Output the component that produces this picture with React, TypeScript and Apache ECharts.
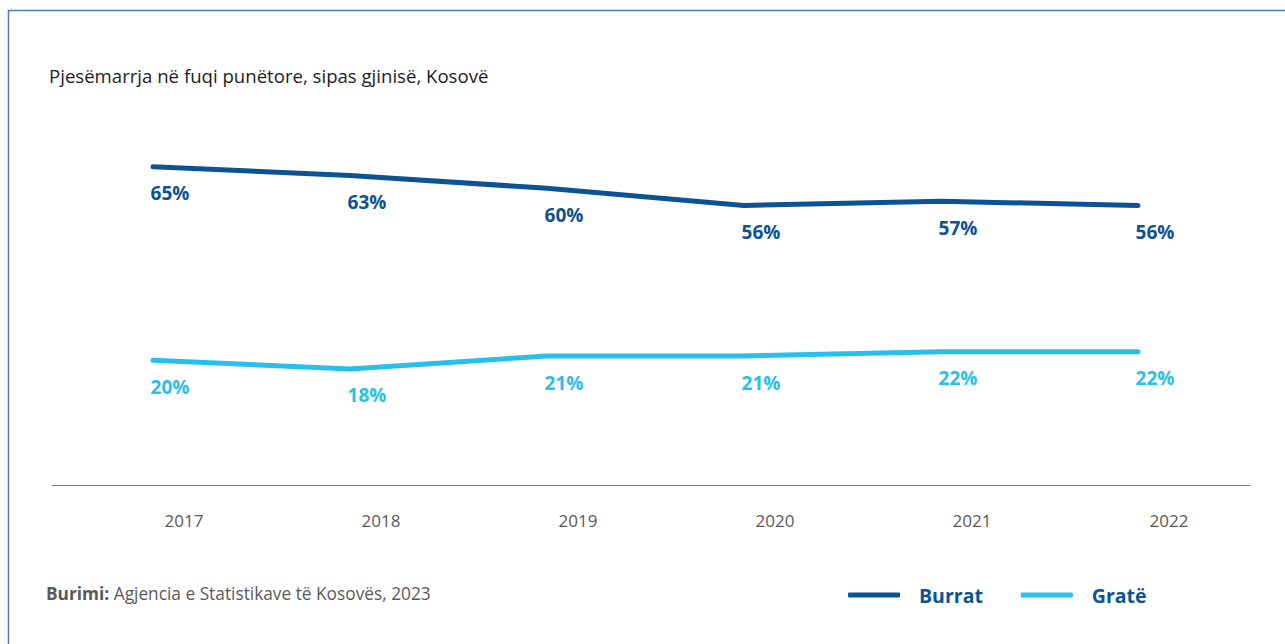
import React, { useEffect, useRef } from "react";
import * as echarts from "echarts";

const years = ["2017", "2018", "2019", "2020", "2021", "2022"];
const burrat = [65, 63, 60, 56, 57, 56];
const grate = [20, 18, 21, 21, 22, 22];
const seriesNames = ["Burrat", "Gratë"];
const titleText = "Pjesëmarrja në fuqi punëtore, sipas gjinisë, Kosovë";
const sourceLabel = "Burimi:";
const sourceText = " Agjencia e Statistikave të Kosovës, 2023";

const DARK = "#0b5394";
const LIGHT = "#27bfeb";
const FONT = "'Open Sans', 'Noto Sans', sans-serif";

export default function App() {
  const ref = useRef<HTMLDivElement>(null);
  useEffect(() => {
    if (!ref.current) return;
    const chart = echarts.init(ref.current, null, { renderer: "svg" });
    const label = (color: string) => ({
      show: true,
      position: "bottom",
      distance: 5,
      offset: [17, 11],
      formatter: "{c}%",
      color,
      fontFamily: FONT,
      fontWeight: "bold",
      fontSize: 19,
    });
    chart.setOption({
      animation: false,
      backgroundColor: "#ffffff",
      textStyle: { fontFamily: FONT },
      title: [
        {
          text: titleText,
          left: 44,
          top: 61,
          textStyle: { fontFamily: FONT, fontWeight: "normal", fontSize: 18.6, color: "#222222" },
        },
        {
          text: `{b|${sourceLabel}}{n|${sourceText}}`,
          left: 41,
          top: 580,
          textStyle: {
            rich: {
              b: { fontFamily: FONT, fontWeight: "bold", fontSize: 17.3, color: "#595959" },
              n: { fontFamily: FONT, fontWeight: "normal", fontSize: 17.3, color: "#595959" },
            },
          },
        },
      ],
      legend: {
        data: seriesNames,
        left: 843,
        top: 580,
        icon: "roundRect",
        itemWidth: 52,
        itemHeight: 5,
        itemGap: 38,
        textStyle: {
          fontFamily: FONT,
          fontWeight: "bold",
          fontSize: 19.5,
          color: DARK,
          padding: [0, 0, 0, 14],
        },
      },
      graphic: [
        {
          type: "polyline",
          shape: { points: [[8.5, 644], [8.5, 10.5], [1285, 10.5]] },
          style: { stroke: "#4a7bbb", lineWidth: 1.5, fill: null },
          silent: true,
        },
      ],
      grid: [
        { left: 153, right: 147, top: 98, bottom: 159 },
        { left: 52, right: 35, top: 98, bottom: 159 },
      ],
      xAxis: [
        {
          type: "category",
          gridIndex: 0,
          data: years,
          boundaryGap: false,
          axisLine: { show: false },
          axisTick: { show: false },
          axisLabel: {
            margin: 27,
            padding: [0, 0, 0, 62],
            fontFamily: FONT,
            fontSize: 17,
            color: "#595959",
          },
        },
        {
          type: "value",
          gridIndex: 1,
          min: 0,
          max: 1,
          axisLine: { show: true, lineStyle: { color: "#7f7f7f", width: 1 } },
          axisTick: { show: false },
          axisLabel: { show: false },
          splitLine: { show: false },
        },
      ],
      yAxis: [
        { type: "value", gridIndex: 0, min: -9, max: 81, show: false, splitLine: { show: false } },
        { type: "value", gridIndex: 1, min: 0, max: 1, show: false, splitLine: { show: false } },
      ],
      series: [
        {
          name: seriesNames[0],
          type: "line",
          xAxisIndex: 0,
          yAxisIndex: 0,
          data: burrat,
          symbol: "circle",
          symbolSize: 2,
          itemStyle: { color: DARK },
          lineStyle: { color: DARK, width: 5, cap: "round", join: "round" },
          label: label(DARK),
        },
        {
          name: seriesNames[1],
          type: "line",
          xAxisIndex: 0,
          yAxisIndex: 0,
          data: grate,
          symbol: "circle",
          symbolSize: 2,
          itemStyle: { color: LIGHT },
          lineStyle: { color: LIGHT, width: 5, cap: "round", join: "round" },
          label: label(LIGHT),
        },
      ],
    });
    return () => chart.dispose();
  }, []);
  return (
    <div
      ref={ref}
      style={{ position: "absolute", left: 0, top: 0, width: 1285, height: 644 }}
    />
  );
}
